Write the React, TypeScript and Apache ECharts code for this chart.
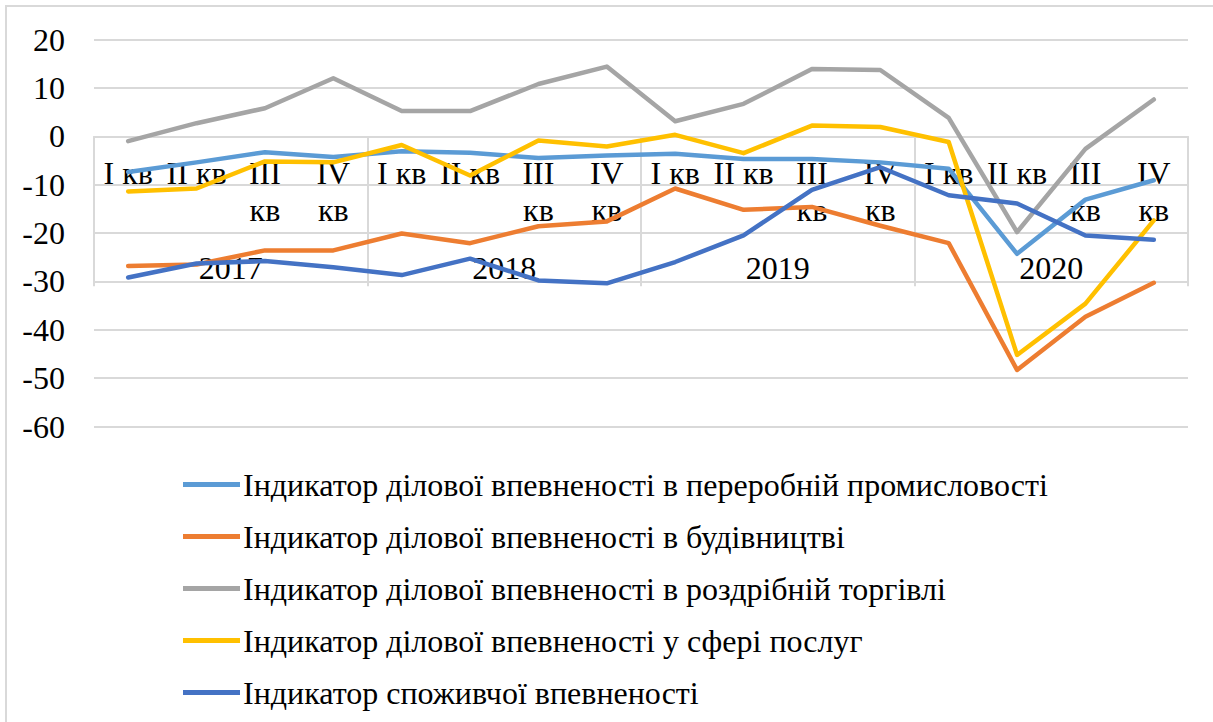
import React, { useEffect, useRef } from 'react';
import * as echarts from 'echarts';

const quarters = [
  'I кв', 'II кв', 'III кв', 'IV кв',
  'I кв', 'II кв', 'III кв', 'IV кв',
  'I кв', 'II кв', 'III кв', 'IV кв',
  'I кв', 'II кв', 'III кв', 'IV кв',
];
const years = ['2017', '2018', '2019', '2020'];

const manufacturing = [-7.4, -5.4, -3.3, -4.3, -3.1, -3.4, -4.5, -4.0, -3.6, -4.7, -4.7, -5.4, -6.7, -24.3, -13.1, -9.1];
const construction = [-26.8, -26.5, -23.6, -23.6, -20.1, -22.1, -18.6, -17.6, -10.8, -15.2, -14.6, -18.5, -22.1, -48.3, -37.3, -30.3];
const retail = [-1.0, 2.7, 5.8, 12.0, 5.2, 5.2, 10.8, 14.4, 3.1, 6.7, 13.9, 13.7, 3.8, -19.8, -2.6, 7.6];
const services = [-11.4, -10.8, -5.2, -5.4, -1.8, -8.1, -0.9, -2.1, 0.3, -3.5, 2.2, 1.9, -1.2, -45.2, -34.6, -17.4];
const consumer = [-29.2, -26.3, -25.8, -27.1, -28.7, -25.3, -29.8, -30.4, -26.0, -20.5, -11.1, -6.4, -12.2, -13.9, -20.5, -21.4];

const seriesNames = [
  'Індикатор ділової впевненості в переробній промисловості',
  'Індикатор ділової впевненості в будівництві',
  'Індикатор ділової впевненості в роздрібній торгівлі',
  'Індикатор ділової впевненості у сфері послуг',
  'Індикатор споживчої впевненості',
];
const seriesColors = ['#5B9BD5', '#ED7D31', '#A5A5A5', '#FFC000', '#4472C4'];
const seriesData = [manufacturing, construction, retail, services, consumer];

const FONT = 'Liberation Serif';
const FONT_SIZE = 32;
const GRID_COLOR = '#d9d9d9';

const Y_MIN = -60;
const Y_MAX = 20;
const GRID_LEFT = 94;
const GRID_RIGHT = 25;
const GRID_TOP = 39.5;
const GRID_BOTTOM = 295.5;
const PLOT_H = 722 - GRID_TOP - GRID_BOTTOM;
const ZERO_H = (PLOT_H * Y_MAX) / (Y_MAX - Y_MIN);

export default function App() {
  const ref = useRef<HTMLDivElement>(null);
  useEffect(() => {
    if (!ref.current) return;
    const chart = echarts.init(ref.current, null, { renderer: 'svg' });
    const labelStyle = { fontFamily: FONT, fontSize: FONT_SIZE, color: '#000', lineHeight: 37 };
    chart.setOption({
      animation: false,
      backgroundColor: '#ffffff',
      textStyle: { fontFamily: FONT },
      graphic: [
        {
          type: 'rect',
          shape: { x: 6, y: 6, width: 1220, height: 730 },
          style: { fill: 'none', stroke: GRID_COLOR, lineWidth: 2 },
          silent: true,
        },
      ],
      grid: [
        { left: GRID_LEFT, right: GRID_RIGHT, top: GRID_TOP, bottom: GRID_BOTTOM },
        { left: GRID_LEFT, right: GRID_RIGHT, top: GRID_TOP, height: ZERO_H },
        { left: GRID_LEFT, right: GRID_RIGHT, top: GRID_TOP, height: ZERO_H },
      ],
      legend: {
        orient: 'vertical',
        left: 178,
        top: 461,
        itemWidth: 57,
        itemHeight: 5,
        itemGap: 15,
        icon: 'rect',
        textStyle: { fontFamily: FONT, fontSize: FONT_SIZE, color: '#000', lineHeight: 37, padding: [0, 0, 0, -2] },
        data: seriesNames,
      },
      xAxis: [
        {
          gridIndex: 0,
          type: 'category',
          data: quarters,
          boundaryGap: true,
          axisLine: { show: false },
          axisTick: { show: false },
          axisLabel: { show: false },
          splitLine: { show: false },
        },
        {
          gridIndex: 1,
          type: 'category',
          data: quarters,
          boundaryGap: true,
          position: 'bottom',
          axisLine: { show: true, onZero: false, lineStyle: { color: GRID_COLOR, width: 2 } },
          axisTick: { show: false },
          axisLabel: {
            ...labelStyle,
            interval: 0,
            margin: 18,
            formatter: (v: string) => (v.startsWith('III') || v.startsWith('IV') ? v.replace(' ', '\n') : v),
          },
          splitLine: { show: false },
        },
        {
          gridIndex: 2,
          type: 'category',
          data: years,
          boundaryGap: true,
          position: 'bottom',
          axisLine: { show: false, onZero: false },
          axisTick: { show: true, interval: 0, length: 150, lineStyle: { color: GRID_COLOR, width: 2 } },
          axisLabel: { ...labelStyle, interval: 0, margin: 113 },
          splitLine: { show: false },
        },
      ],
      yAxis: [
        {
          gridIndex: 0,
          type: 'value',
          min: Y_MIN,
          max: Y_MAX,
          interval: 10,
          axisLine: { show: false },
          axisTick: { show: false },
          axisLabel: { margin: 29, fontFamily: FONT, fontSize: FONT_SIZE, color: '#000' },
          splitLine: { show: true, lineStyle: { color: GRID_COLOR, width: 2 } },
        },
        { gridIndex: 1, type: 'value', min: 0, max: 1, show: false },
        { gridIndex: 2, type: 'value', min: 0, max: 1, show: false },
      ],
      series: seriesNames.map((name, i) => ({
        name,
        type: 'line',
        xAxisIndex: 0,
        yAxisIndex: 0,
        data: seriesData[i],
        symbol: 'none',
        smooth: false,
        color: seriesColors[i],
        lineStyle: { width: 4.5, color: seriesColors[i], cap: 'round', join: 'round' },
        itemStyle: { color: seriesColors[i] },
      })),
    });
    return () => chart.dispose();
  }, []);
  return (
    <div
      ref={ref}
      style={{ position: 'absolute', left: 0, top: 0, width: 1213, height: 722, background: '#fff' }}
    />
  );
}
